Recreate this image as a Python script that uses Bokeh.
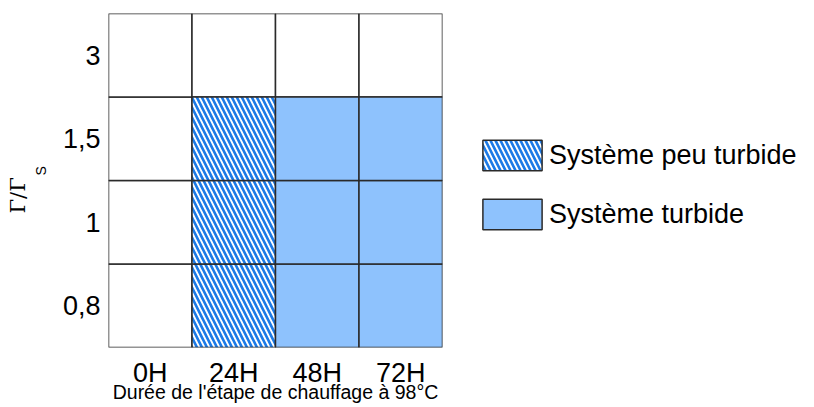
from bokeh.plotting import figure
from bokeh.models import Legend, LegendItem, Title, FactorRange
from bokeh.embed import file_html
from bokeh.resources import INLINE

# ---- data ----
times = ["0H", "24H", "48H", "72H"]
ratios = ["0,8", "1", "1,5", "3"]
# state per ratio row (bottom to top), per time column
row_0_8 = ["none", "peu", "turbide", "turbide"]
row_1 = ["none", "peu", "turbide", "turbide"]
row_1_5 = ["none", "peu", "turbide", "turbide"]
row_3 = ["none", "none", "none", "none"]
rows = [row_0_8, row_1, row_1_5, row_3]
legend_labels = {"peu": "Système peu turbide", "turbide": "Système turbide"}
x_title = "Durée de l'étape de chauffage à 98°C"
y_title_main = "Γ/Γ"
y_title_sub = "S"

BLUE_FILL = "#8EC2FD"
HATCH_BLUE = "#1C7AE6"
LINE = "#2a2a2a"

p = figure(x_range=FactorRange(*times), y_range=FactorRange(*ratios),
           frame_width=334, frame_height=334,
           min_border_left=108, min_border_top=13, min_border_right=0, min_border_bottom=50,
           output_backend="svg", toolbar_location=None)
p.outline_line_color = None
p.xgrid.grid_line_color = None
p.ygrid.grid_line_color = None
p.background_fill_color = "white"
p.border_fill_color = "white"

cells = {"none": ([], []), "peu": ([], []), "turbide": ([], [])}
for r, row in zip(ratios, rows):
    for t, s in zip(times, row):
        cells[s][0].append(t)
        cells[s][1].append(r)

r_none = p.rect(x=cells["none"][0], y=cells["none"][1], width=1, height=1,
                fill_color="white", line_color=LINE, line_width=1.5)
r_peu = p.rect(x=cells["peu"][0], y=cells["peu"][1], width=1, height=1,
               fill_color="white", line_color=LINE, line_width=1.5,
               hatch_pattern="\\", hatch_color=HATCH_BLUE, hatch_weight=2.6, hatch_scale=10)
r_turb = p.rect(x=cells["turbide"][0], y=cells["turbide"][1], width=1, height=1,
                fill_color=BLUE_FILL, line_color=LINE, line_width=1.5)

# axes
for ax in (p.xaxis, p.yaxis):
    ax.axis_line_color = None
    ax.major_tick_line_color = None
    ax.minor_tick_line_color = None
    ax.major_tick_out = 0
    ax.major_tick_in = 0
    ax.minor_tick_out = 0
    ax.minor_tick_in = 0
    ax.major_label_text_color = "black"
    ax.axis_label_text_color = "black"

p.xaxis.major_label_text_font = "Liberation Sans"
p.xaxis.major_label_text_font_size = "27px"
p.xaxis.major_label_standoff = 10
p.xaxis.axis_label = x_title
p.xaxis.axis_label_text_font = "Liberation Sans"
p.xaxis.axis_label_text_font_style = "normal"
p.xaxis.axis_label_text_font_size = "19.5px"
p.xaxis.axis_label_standoff = -10

p.yaxis.major_label_text_font = "Liberation Sans"
p.yaxis.major_label_text_font_size = "27px"
p.yaxis.major_label_standoff = 8

# y title built from two side titles: subscript S nearer the frame, Γ/Γ further out
p.add_layout(Title(text=y_title_sub, align="left", offset=172, standoff=21,
                   text_font="Liberation Sans", text_font_size="14px",
                   text_font_style="normal", text_color="black"), "left")
p.add_layout(Title(text=y_title_main, align="left", offset=134, standoff=-19,
                   text_font="DejaVu Serif", text_font_size="21px",
                   text_font_style="normal", text_color="black"), "left")
# empty outer spacer panel so that the Γ/Γ title sits against the S title
p.add_layout(Title(text="", standoff=0, text_font_size="1px"), "left")

legend = Legend(items=[LegendItem(label=legend_labels["peu"], renderers=[r_peu]),
                       LegendItem(label=legend_labels["turbide"], renderers=[r_turb])],
                location=(33, 114), glyph_width=74, glyph_height=38,
                label_height=38, label_width=260, spacing=21, padding=0, margin=0,
                label_standoff=0, label_text_font="Liberation Sans",
                label_text_color="black",
                label_text_font_size="27px", border_line_color=None,
                background_fill_alpha=0)
p.add_layout(legend, "right")

open("out.html", "w").write(file_html(p, INLINE))
